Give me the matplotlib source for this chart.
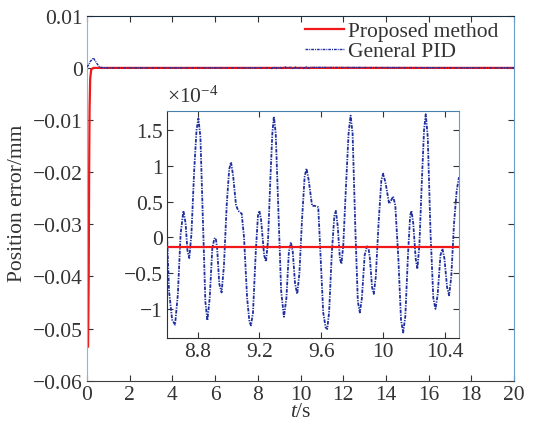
import matplotlib
matplotlib.use('Agg')
import matplotlib.pyplot as plt
from matplotlib.ticker import FuncFormatter, MultipleLocator

plt.rcParams['font.family'] = ['Liberation Serif', 'DejaVu Serif']
plt.rcParams['mathtext.fontset'] = 'custom'
plt.rcParams['mathtext.rm'] = 'Liberation Serif'
plt.rcParams['mathtext.it'] = 'Liberation Serif:italic'
plt.rcParams['font.size'] = 15.5

# proposed method: fast rise from the initial error, then flat
t_prop = [0.0, 0.05, 0.08, 0.10, 0.12, 0.15, 0.20, 0.30, 20.0]
e_prop = [-0.0535, -0.0535, -0.040, -0.020, -0.008, -0.002, -0.0003, -0.000013, -0.000013]

# general PID: small overshoot at the start
t_pid0 = [0.0, 0.05, 0.15, 0.30, 0.45, 0.60, 0.80]
e_pid0 = [0.0002, 0.0004, 0.0012, 0.0019, 0.0009, 0.0001, 0.0]

# general PID steady-state ripple (x1e-4 mm), 8.6 s .. 10.49 s
t_pid = [8.600, 8.615, 8.635, 8.654, 8.672, 8.690, 8.708, 8.722, 8.734, 8.746,
         8.760, 8.778, 8.793, 8.805, 8.818, 8.835, 8.850, 8.863, 8.878, 8.895,
         8.908, 8.917, 8.926, 8.940, 8.955, 8.970, 8.988, 9.004, 9.016, 9.030,
         9.048, 9.063, 9.085, 9.100, 9.120, 9.135, 9.145, 9.158, 9.176, 9.190,
         9.199, 9.210, 9.230, 9.242, 9.255, 9.270, 9.283, 9.293, 9.305, 9.322,
         9.340, 9.358, 9.374, 9.390, 9.403, 9.415, 9.430, 9.444, 9.458, 9.475,
         9.492, 9.504, 9.518, 9.540, 9.558, 9.580, 9.596, 9.612, 9.628, 9.638,
         9.650, 9.668, 9.684, 9.694, 9.706, 9.720, 9.730, 9.742, 9.760, 9.776,
         9.789, 9.802, 9.820, 9.836, 9.849, 9.862, 9.880, 9.894, 9.903, 9.914,
         9.928, 9.939, 9.952, 9.970, 9.988, 10.000, 10.016, 10.038, 10.052, 10.064,
         10.078, 10.098, 10.115, 10.129, 10.143, 10.160, 10.174, 10.183, 10.194, 10.210,
         10.221, 10.234, 10.250, 10.264, 10.275, 10.288, 10.306, 10.324, 10.338, 10.352,
         10.370, 10.383, 10.396, 10.413, 10.426, 10.440, 10.458, 10.475, 10.490]
e_pid = [0.16, -0.75, -1.15, -1.22, -0.80, 0.05, 0.37, 0.20, -0.18, -0.29,
         0.05, 0.95, 1.50, 1.66, 1.40, 0.20, -0.90, -1.16, -0.85, -0.15,
         -0.02, -0.01, -0.15, -0.65, -0.77, -0.40, 0.45, 0.95, 1.05, 0.85,
         0.45, 0.37, 0.33, 0.00, -0.85, -1.18, -1.23, -1.05, -0.20, 0.30,
         0.37, 0.25, -0.25, -0.34, -0.05, 0.80, 1.45, 1.69, 1.45, 0.40,
         -0.75, -1.11, -0.85, -0.20, -0.07, -0.20, -0.65, -0.79, -0.50, 0.25,
         0.85, 0.96, 0.80, 0.44, 0.44, 0.42, -0.30, -1.05, -1.26, -1.28,
         -1.05, -0.20, 0.30, 0.37, 0.15, -0.30, -0.37, -0.10, 0.75, 1.45,
         1.70, 1.45, 0.10, -0.90, -1.05, -0.85, -0.25, -0.13, -0.12, -0.30,
         -0.70, -0.79, -0.55, 0.20, 0.80, 0.89, 0.75, 0.47, 0.52, 0.57,
         0.45, -0.30, -1.15, -1.33, -1.10, -0.25, 0.30, 0.37, 0.20, -0.30,
         -0.44, -0.10, 0.80, 1.50, 1.72, 1.40, 0.05, -0.85, -1.00, -0.80,
         -0.25, -0.16, -0.30, -0.70, -0.81, -0.55, 0.20, 0.65, 0.84]
e_pid = [v * 1e-4 for v in e_pid]

t_end = [20.0]
e_end = [0.0]

red = '#f01818'
blue = '#1f2fa0'
pid_style = (0, (2.0, 0.7, 0.7, 0.7))


def fmt(v, pos):
    s = '%g' % round(v, 6)
    return s.replace('-', '\u2212')


def fmt_e4(v, pos):
    s = '%g' % round(v / 1e-4, 6)
    return s.replace('-', '\u2212')


fig = plt.figure(figsize=(5.35, 4.27), dpi=100)
ax = fig.add_axes([87 / 535, 1 - 381.7 / 427, 427 / 535, 365 / 427])

ax.plot(t_prop, e_prop, color=red, lw=1.6, label='Proposed method', zorder=2)
ax.plot(t_pid0 + t_pid + t_end, e_pid0 + e_pid + e_end, color=blue, lw=1.0,
        linestyle=pid_style, label='General PID', zorder=3)

ax.set_xlim(0, 20)
ax.set_ylim(-0.06, 0.01)
ax.xaxis.set_major_locator(MultipleLocator(2))
ax.yaxis.set_major_locator(MultipleLocator(0.01))
ax.yaxis.set_major_formatter(FuncFormatter(fmt))
ax.tick_params(direction='in', length=4, width=0.8, top=True, right=True,
               colors='#333333', labelsize=15.5, pad=3)
ax.spines['left'].set_color('#8ab8dc')
ax.spines['right'].set_color('#6a9cc8')
ax.spines['top'].set_color('#1c2c40')
ax.spines['bottom'].set_color('#404040')
ax.set_xlabel(r'$t$/s', color='#333333', labelpad=-1)
ax.set_ylabel('Position error/mm', color='#333333')
ax.yaxis.set_label_coords(-(87 - 27) / 427, 0.49)

leg = ax.legend(loc='upper left', bbox_to_anchor=(305 / 535, 1 - 22 / 427),
                bbox_transform=fig.transFigure, frameon=False, borderpad=0,
                borderaxespad=0, handlelength=1.8, handletextpad=0.2,
                labelspacing=0.0, fontsize=15.5)
for txt in leg.get_texts():
    txt.set_color('#333333')

# zoomed view of the steady-state ripple
axi = fig.add_axes([166.7 / 535, 1 - 339.3 / 427, 292.3 / 535, 227 / 427])
axi.plot(t_prop, e_prop, color=red, lw=1.6, zorder=3)
axi.plot(t_pid, e_pid, color=blue, lw=1.3, linestyle=pid_style, zorder=2)
axi.set_xlim(8.6, 10.49)
axi.set_ylim(-1.41e-4, 1.76e-4)
axi.set_xticks([8.8, 9.2, 9.6, 10.0, 10.4])
axi.xaxis.set_major_formatter(FuncFormatter(fmt))
axi.set_yticks([-1e-4, -0.5e-4, 0, 0.5e-4, 1e-4, 1.5e-4])
axi.yaxis.set_major_formatter(FuncFormatter(fmt_e4))
axi.tick_params(direction='in', length=4, width=0.8, top=True, right=True,
                colors='#333333', labelsize=15.5, pad=3)
axi.spines['left'].set_color('#303030')
axi.spines['bottom'].set_color('#303030')
axi.spines['top'].set_color('#4a80b0')
axi.spines['right'].set_color('#6a9cc8')
axi.text(0.0, 1.02, r'$\times 10^{-4}$', transform=axi.transAxes,
         ha='left', va='bottom', color='#333333', fontsize=15.5)

fig.savefig('out.png', dpi=100)
